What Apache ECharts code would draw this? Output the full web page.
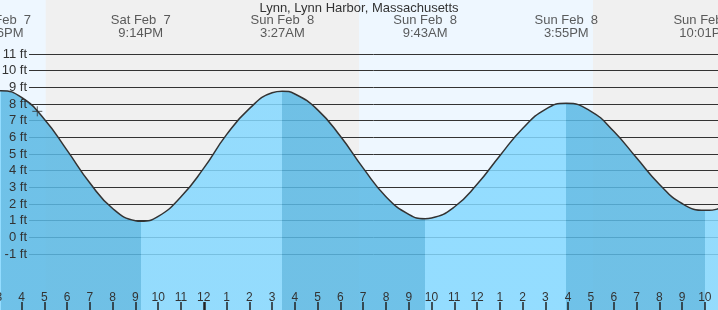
<!DOCTYPE html>
<html>
<head>
<meta charset="utf-8">
<script src="https://cdn.jsdelivr.net/npm/echarts@6/dist/echarts.min.js"></script>
<style>
html,body{margin:0;padding:0;background:#f0f0f0;}
#chart{width:718px;height:310px;}
</style>
</head>
<body>
<div id="chart"></div>
<script>
// Hours relative to midnight Sat Feb 7 / Sun Feb 8
const tideHours = [-10, -8.9, -8, -7, -6, -5, -4, -3, -2.767, -2, -1, 0, 1, 2, 3, 3.45, 4, 5, 6, 7, 8, 9, 9.717, 10, 11, 12, 13, 14, 15, 15.917, 17, 18, 19, 20, 21, 22.017, 23, 24];
const tideFeet  = [8.2, 8.8, 8.39, 7.09, 5.22, 3.26, 1.73, 1.0, 0.97, 1.26, 2.43, 4.15, 6.16, 7.72, 8.68, 8.77, 8.60, 7.65, 6.06, 4.15, 2.44, 1.38, 1.12, 1.16, 1.82, 3.18, 4.90, 6.53, 7.68, 8.04, 7.56, 6.36, 4.77, 3.19, 2.03, 1.62, 2.05, 3.4];

const extremeHours = [-8.9, -2.767, 3.45, 9.717, 15.917, 22.017];
const extremeKinds = ['high', 'low', 'high', 'low', 'high', 'low'];
const extremeDates = ['Sat Feb  7', 'Sat Feb  7', 'Sun Feb  8', 'Sun Feb  8', 'Sun Feb  8', 'Sun Feb  8'];
const extremeTimes = ['3:06PM', '9:14PM', '3:27AM', '9:43AM', '3:55PM', '10:01PM'];

const hourTicks = [-9, -8, -7, -6, -5, -4, -3, -2, -1, 0, 1, 2, 3, 4, 5, 6, 7, 8, 9, 10, 11, 12, 13, 14, 15, 16, 17, 18, 19, 20, 21, 22, 23];
const midnightHour = 0;

const dayStarts = [-10, 6.815];
const dayEnds = [-6.94, 17.09];

const nowHour = -7.31;
const nowFeet = 7.56;

const ftMin = -1, ftMax = 11;
const titleText = 'Lynn, Lynn Harbor, Massachusetts';

const FONT = 'Liberation Sans, Arial, sans-serif';
const TXT = '#333';
const LIGHT = '#84d8ff';
const DARK = '#59b8e4';

const tidePairs = tideHours.map((h, i) => [h, tideFeet[i]]);

// rising tide = light water, falling tide = dark water
const pieces = [{ lt: extremeHours[0], color: extremeKinds[0] === 'high' ? LIGHT : DARK }];
for (let i = 0; i < extremeHours.length; i++) {
  const p = { gte: extremeHours[i], color: extremeKinds[i] === 'high' ? DARK : LIGHT };
  if (i + 1 < extremeHours.length) p.lt = extremeHours[i + 1];
  pieces.push(p);
}

function hourLabel(v) {
  let h = ((Math.round(v) % 12) + 12) % 12;
  return String(h === 0 ? 12 : h);
}

const TICK_TOP = -3.88, TICK_BOTTOM = -4.36;
const tickLines = hourTicks.map(h => [
  { coord: [h, TICK_TOP], lineStyle: { width: h === midnightHour ? 2.5 : 1.5, color: '#222', type: 'solid' } },
  { coord: [h, TICK_BOTTOM] }
]);

const chart = echarts.init(document.getElementById('chart'), null, { renderer: 'canvas' });
chart.setOption({
  animation: false,
  backgroundColor: '#f0f0f0',
  textStyle: { fontFamily: FONT },
  title: {
    text: titleText, left: 'center', top: 2, padding: 0,
    textStyle: { fontSize: 13, fontWeight: 'normal', color: TXT, fontFamily: FONT }
  },
  grid: [
    { left: -1.2, right: -9.6, top: 0, bottom: 0, containLabel: false, outerBoundsMode: 'none' },
    { left: 29, right: 0, top: 54, bottom: 56, containLabel: false, outerBoundsMode: 'none' }
  ],
  xAxis: [
    {
      gridIndex: 0, type: 'value', min: -9, max: 23, interval: 1, z: 5, position: 'bottom',
      axisLine: { show: false, onZero: false },
      splitLine: { show: false },
      axisTick: { show: false },
      axisLabel: { inside: true, margin: 6, fontSize: 12, color: TXT, fontFamily: FONT, formatter: hourLabel, showMinLabel: true, showMaxLabel: true, hideOverlap: false }
    },
    { gridIndex: 1, type: 'value', min: 0, max: 1, show: false, axisLine: { onZero: false } }
  ],
  yAxis: [
    { gridIndex: 0, type: 'value', min: -4.36, max: 14.24, show: false, axisLine: { onZero: false } },
    {
      gridIndex: 1, type: 'value', min: ftMin, max: ftMax, interval: 1, z: 1, position: 'left',
      axisLine: { show: false, onZero: false }, axisTick: { show: false }, axisLabel: { show: false },
      splitLine: { show: true, showMinLine: true, showMaxLine: true, lineStyle: { color: TXT, width: 1 } }
    },
    {
      gridIndex: 1, type: 'value', min: ftMin, max: ftMax, interval: 1, z: 5, position: 'left', offset: 0,
      axisLine: { show: false, onZero: false }, axisTick: { show: false }, splitLine: { show: false },
      axisLabel: { show: true, margin: 2, fontSize: 13, color: TXT, fontFamily: FONT, formatter: '{value} ft', showMinLabel: true, showMaxLabel: true }
    }
  ],
  visualMap: {
    type: 'piecewise', show: false, dimension: 0, seriesIndex: 0, pieces: pieces
  },
  series: [
    {
      name: 'water', type: 'line', xAxisIndex: 0, yAxisIndex: 0, z: 2,
      data: tidePairs, smooth: 0.5, showSymbol: false, silent: true,
      lineStyle: { width: 0, opacity: 0 },
      areaStyle: { origin: 'start', opacity: 0.85 },
      markArea: {
        silent: true, z: 0,
        itemStyle: { color: '#eef7ff' },
        label: { show: false },
        data: dayStarts.map((s, i) => [{ xAxis: s }, { xAxis: dayEnds[i] }])
      }
    },
    {
      name: 'tide', type: 'line', xAxisIndex: 0, yAxisIndex: 0, z: 3,
      data: tidePairs, smooth: 0.5, showSymbol: false, silent: true,
      lineStyle: { color: TXT, width: 1.5 }
    },
    {
      name: 'ticks', type: 'line', xAxisIndex: 0, yAxisIndex: 0, z: 6, silent: true,
      data: [], showSymbol: false,
      markLine: {
        silent: true, symbol: 'none', z: 6, precision: 3,
        label: { show: false },
        lineStyle: { color: '#222', width: 1.5, type: 'solid', opacity: 1 },
        emphasis: { disabled: true },
        data: tickLines
      }
    },
    {
      name: 'extremes', type: 'scatter', xAxisIndex: 0, yAxisIndex: 0, z: 6,
      symbolSize: 0, silent: true,
      data: extremeHours.map(h => [h, 12.62]),
      label: {
        show: true, position: 'inside', fontSize: 13, lineHeight: 12.5, color: TXT, fontFamily: FONT,
        align: 'center', verticalAlign: 'middle',
        formatter: p => extremeDates[p.dataIndex] + '\n' + extremeTimes[p.dataIndex]
      }
    },
    {
      name: 'now', type: 'scatter', xAxisIndex: 0, yAxisIndex: 0, z: 7, silent: true,
      symbol: 'path://M5,0L5,10M0,5L10,5', symbolSize: 10,
      itemStyle: { color: 'none', borderColor: TXT, borderWidth: 1 },
      data: [[nowHour, nowFeet]]
    }
  ]
});
</script>
</body>
</html>
